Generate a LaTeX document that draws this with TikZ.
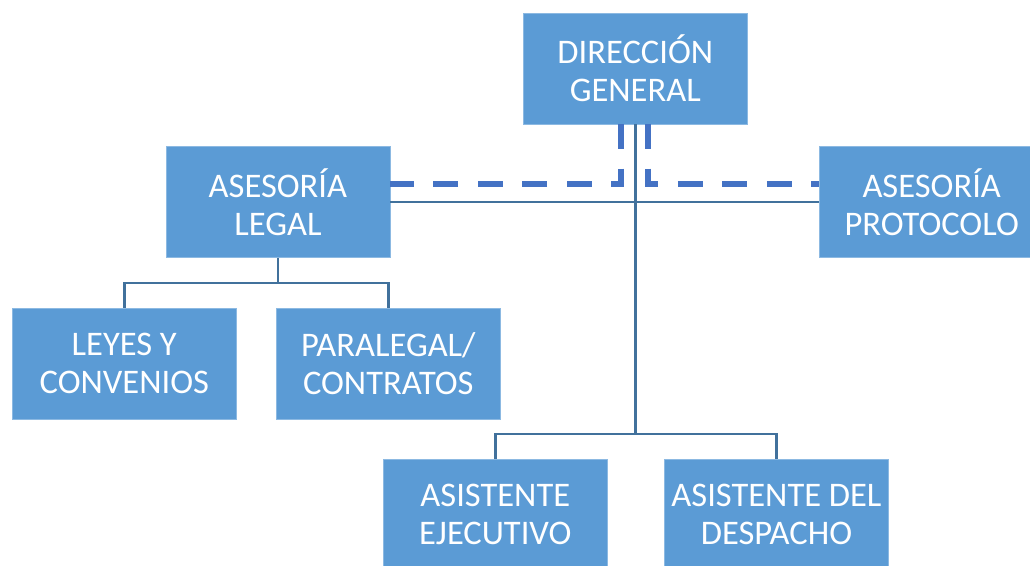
\documentclass[tikz,border=0pt]{standalone}
\usepackage{fontspec}
\setmainfont{Carlito}
\usepackage{xcolor}
\usetikzlibrary{positioning}
\usetikzlibrary{arrows, arrows.meta}

\definecolor{boxblue}{HTML}{5B9BD5}
\definecolor{lineblue}{HTML}{41719C}
\definecolor{dashblue}{HTML}{4472C4}

\tikzset{
  unit/.style={fill=boxblue, draw=boxblue!70!white, line width=0.6pt,
    text=white, align=center, inner sep=0pt,
    minimum width=224pt, minimum height=111pt,
    font=\fontsize{34.5}{37.5}\selectfont},
  link/.style={draw=lineblue, line width=2.8pt},
  staff/.style={draw=dashblue, line width=6pt, dash pattern=on 25pt off 19.5pt},
}

\begin{document}
\begin{tikzpicture}[x=1pt, y=-1pt]
  \useasboundingbox (0,0) rectangle (1030,565);
  \def\rowone{68.3}
  \def\rowtwo{202}
  \def\rowthree{363.5}
  \def\rowfour{514.5}

  % top
  \node[unit] (DG) at (635.3,\rowone) {DIRECCIÓN\\GENERAL};

  % asesorias
  \node[unit] (AL) at (277.9,\rowtwo) {ASESORÍA\\LEGAL};
  \node[unit] (AP) at (931.7,\rowtwo) {ASESORÍA\\PROTOCOLO};

  % under legal
  \node[unit] (LC) at (124.3,\rowthree) {LEYES Y\\CONVENIOS};
  \node[unit] (PC) at (388.3,\rowthree) {PARALEGAL/\\CONTRATOS};

  % asistentes
  \node[unit] (AE) at (495.3,\rowfour) {ASISTENTE\\EJECUTIVO};
  \node[unit] (AD) at (776.5,\rowfour) {ASISTENTE DEL\\DESPACHO};

  % staff lines (dashed)
  \draw[staff] ([xshift=-14pt]DG.south) |- ([yshift=18.5pt]AL.east);
  \draw[staff] ([xshift=13pt]DG.south) |- ([yshift=18.5pt]AP.west);

  % solid lines
  \draw[link] (AL.east) -- (AP.west);

  \coordinate (J1) at (277.9,283);
  \draw[link] (AL.south) -- (J1);
  \draw[link] (LC.north) |- (J1) -| (PC.north);

  \coordinate (J2) at (635.3,434);
  \draw[link] (DG.south) -- (J2);
  \draw[link] (AE.north) |- (J2) -| (AD.north);

\end{tikzpicture}
\end{document}
